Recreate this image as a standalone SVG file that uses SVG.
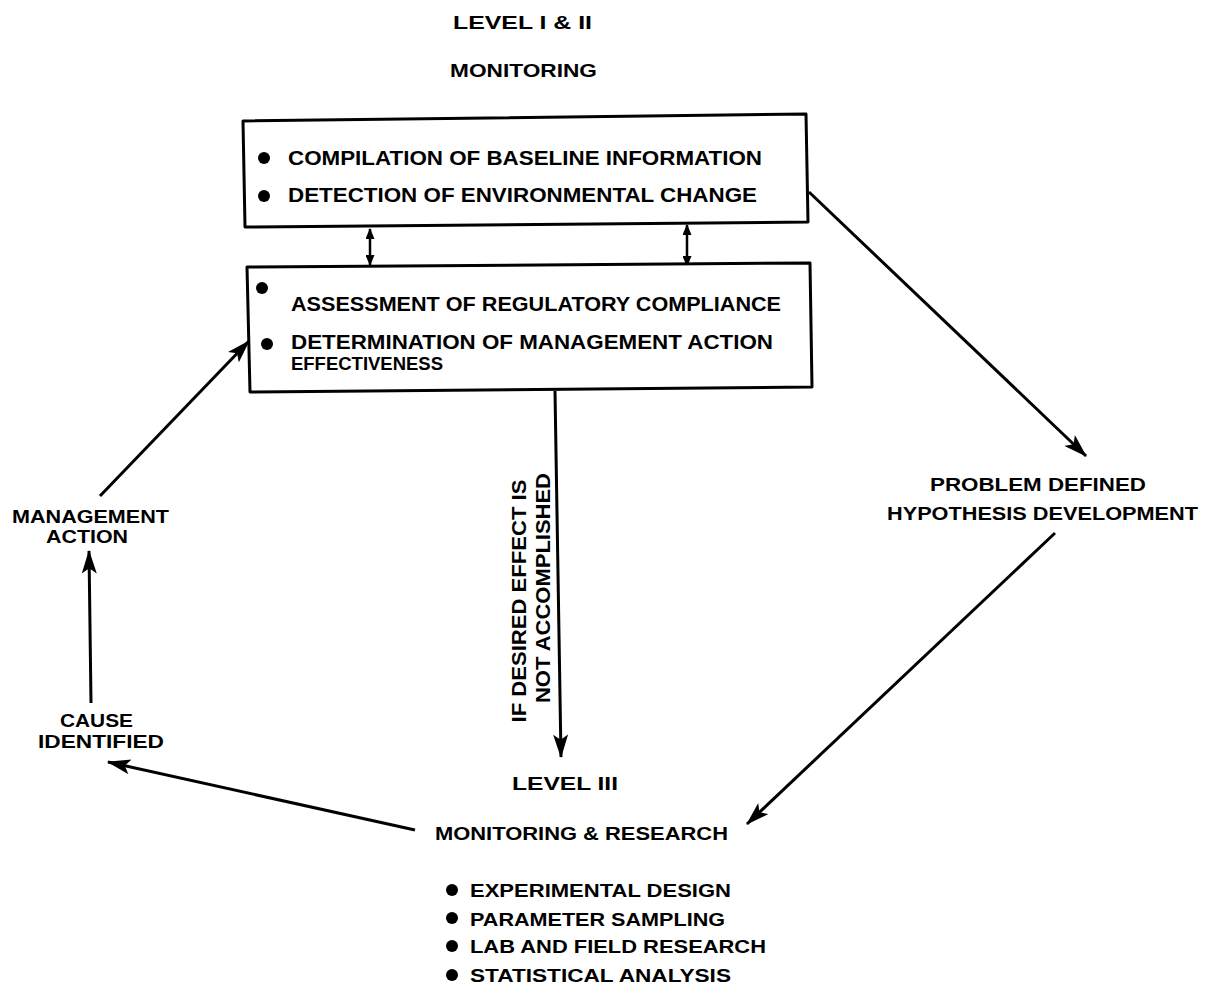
<svg xmlns="http://www.w3.org/2000/svg" width="1207" height="986" viewBox="0 0 1207 986">
<style>
text{font-family:"Liberation Sans",Arial,sans-serif;font-weight:bold;fill:#000;}
.t{font-size:21px;}
.s{font-size:19px;}
.h{font-size:19px;}
.box{fill:#fff;stroke:#000;stroke-width:3;stroke-linejoin:round;}
.c{fill:none;stroke:#000;stroke-width:3;}
.c2{fill:none;stroke:#000;stroke-width:2.5;}
.dot{fill:#000;}
</style>
<defs>
<marker id="ah" viewBox="0 0 22 14" refX="21" refY="7" markerWidth="24" markerHeight="15" markerUnits="userSpaceOnUse" orient="auto"><path d="M0,0 L22,7 L0,14 L5,7 z" fill="#000"/></marker>
<marker id="as" viewBox="0 0 12 10" refX="11" refY="5" markerWidth="11" markerHeight="9" markerUnits="userSpaceOnUse" orient="auto-start-reverse"><path d="M0,0 L12,5 L0,10 z" fill="#000"/></marker>
</defs>
<rect width="1207" height="986" fill="#fff"/>
<g id="title">
<text class="h" x="453" y="29" textLength="139" lengthAdjust="spacingAndGlyphs">LEVEL I &amp; II</text>
<text class="h" x="450" y="77" textLength="147" lengthAdjust="spacingAndGlyphs">MONITORING</text>
</g>
<g id="connectors">
<line class="c2" x1="370" y1="229" x2="370" y2="265" marker-start="url(#as)" marker-end="url(#as)"/>
<line class="c2" x1="687" y1="225" x2="687" y2="266" marker-start="url(#as)" marker-end="url(#as)"/>
<line class="c" x1="809" y1="192" x2="1086" y2="456" marker-end="url(#ah)"/>
<line class="c" x1="1055" y1="533" x2="747" y2="824" marker-end="url(#ah)"/>
<line class="c" x1="555" y1="391" x2="561" y2="757" marker-end="url(#ah)"/>
<line class="c" x1="415" y1="830" x2="108" y2="762" marker-end="url(#ah)"/>
<line class="c" x1="91" y1="703" x2="89" y2="551" marker-end="url(#ah)"/>
<line class="c" x1="100" y1="496" x2="249" y2="341" marker-end="url(#ah)"/>
</g>
<g id="box1">
<polygon class="box" points="243,121 806,114 808,222 245,227"/>
<circle class="dot" cx="264" cy="158" r="6"/>
<text class="t" x="288" y="165" textLength="474" lengthAdjust="spacingAndGlyphs">COMPILATION OF BASELINE INFORMATION</text>
<circle class="dot" cx="264" cy="196" r="6"/>
<text class="t" x="288" y="202" textLength="469" lengthAdjust="spacingAndGlyphs">DETECTION OF ENVIRONMENTAL CHANGE</text>
</g>
<g id="box2">
<polygon class="box" points="247,267 810,263 812,387 250,392"/>
<circle class="dot" cx="262" cy="288" r="6"/>
<text class="t" x="291" y="311" textLength="490" lengthAdjust="spacingAndGlyphs">ASSESSMENT OF REGULATORY COMPLIANCE</text>
<circle class="dot" cx="267" cy="344" r="6"/>
<text class="t" x="291" y="349" textLength="482" lengthAdjust="spacingAndGlyphs">DETERMINATION OF MANAGEMENT ACTION</text>
<text class="s" x="291" y="370" textLength="152" lengthAdjust="spacingAndGlyphs">EFFECTIVENESS</text>
</g>
<g id="condition">
<text class="t" transform="translate(526,601) rotate(-90)" text-anchor="middle" textLength="243" lengthAdjust="spacingAndGlyphs">IF DESIRED EFFECT IS</text>
<text class="t" transform="translate(550,588) rotate(-90)" text-anchor="middle" textLength="230" lengthAdjust="spacingAndGlyphs">NOT ACCOMPLISHED</text>
</g>
<g id="problem">
<text class="h" x="930" y="491" textLength="216" lengthAdjust="spacingAndGlyphs">PROBLEM DEFINED</text>
<text class="h" x="887" y="520" textLength="311" lengthAdjust="spacingAndGlyphs">HYPOTHESIS DEVELOPMENT</text>
</g>
<g id="level3">
<text class="h" x="512" y="790" textLength="106" lengthAdjust="spacingAndGlyphs">LEVEL III</text>
<text class="h" x="435" y="840" textLength="293" lengthAdjust="spacingAndGlyphs">MONITORING &amp; RESEARCH</text>
<circle class="dot" cx="452" cy="890" r="6"/>
<text class="h" x="470" y="897" textLength="261" lengthAdjust="spacingAndGlyphs">EXPERIMENTAL DESIGN</text>
<circle class="dot" cx="452" cy="918" r="6"/>
<text class="h" x="470" y="926" textLength="255" lengthAdjust="spacingAndGlyphs">PARAMETER SAMPLING</text>
<circle class="dot" cx="452" cy="946" r="6"/>
<text class="h" x="470" y="953" textLength="296" lengthAdjust="spacingAndGlyphs">LAB AND FIELD RESEARCH</text>
<circle class="dot" cx="452" cy="975" r="6"/>
<text class="h" x="470" y="982" textLength="261" lengthAdjust="spacingAndGlyphs">STATISTICAL ANALYSIS</text>
</g>
<g id="cause">
<text class="h" x="60" y="727" textLength="73" lengthAdjust="spacingAndGlyphs">CAUSE</text>
<text class="h" x="38" y="748" textLength="126" lengthAdjust="spacingAndGlyphs">IDENTIFIED</text>
</g>
<g id="management">
<text class="h" x="12" y="523" textLength="157" lengthAdjust="spacingAndGlyphs">MANAGEMENT</text>
<text class="h" x="46" y="543" textLength="82" lengthAdjust="spacingAndGlyphs">ACTION</text>
</g>
</svg>
